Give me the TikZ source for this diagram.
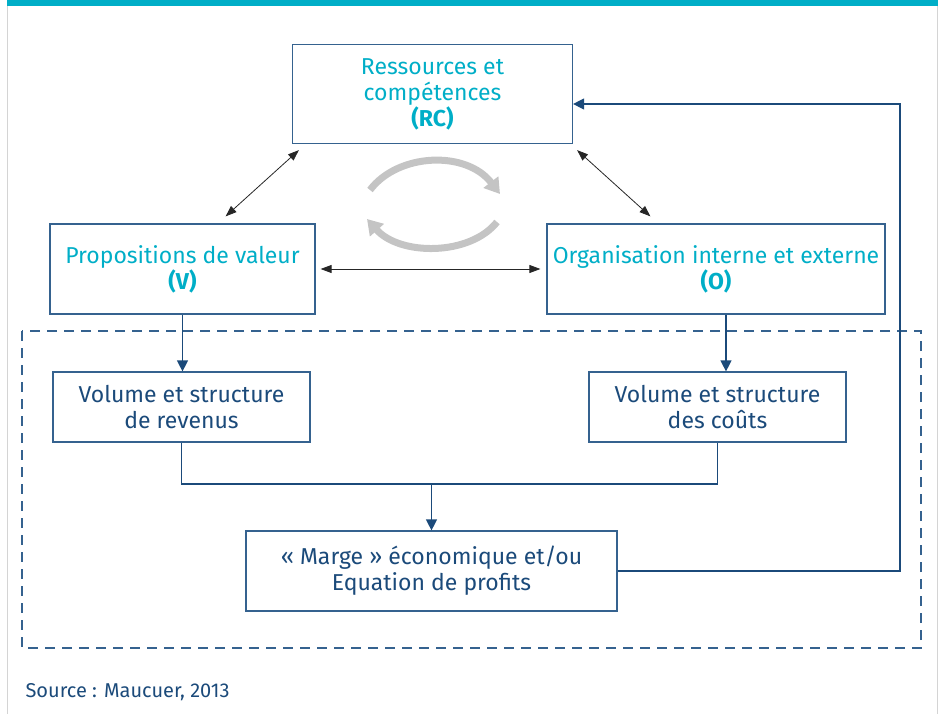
\documentclass[tikz,border=0pt]{standalone}
\usepackage{fontspec}
\setmainfont{Fira Sans}
\usetikzlibrary{arrows.meta,positioning}
\definecolor{Teal}{HTML}{00AEC7}
\definecolor{Navy}{HTML}{1B4A7A}
\definecolor{Frame}{HTML}{35628F}
\definecolor{Arc}{HTML}{C4C4C4}
\definecolor{Edge}{HTML}{D4D4D4}

\begin{document}
\begin{tikzpicture}[x=1pt,y=-1pt,font=\fontsize{23}{26}\selectfont,
  box/.style={draw=Frame,line width=1.2pt,align=center,inner sep=0pt,text=Navy},
  keybox/.style={box,text=Teal},
  link/.style={draw=Navy,line width=1.2pt,-{Triangle[width=11pt,length=11pt]}},
  dual/.style={black!85,line width=0.8pt,{Triangle[width=8pt,length=11pt]}-{Triangle[width=8pt,length=11pt]}},
  turn/.style={Arc,line width=7pt,-{Triangle[width=18pt,length=15pt]}}]
  \useasboundingbox (0,0) rectangle (940,714);
  % page frame
  \draw[Edge,line width=1pt] (7.5,6) -- (7.5,714) (937,6) -- (937,714);
  \fill[Teal] (7,0) rectangle (938,6);

  % the three building blocks
  \node[keybox,minimum width=280pt,minimum height=99pt] (rc) at (432.5,94)
    {Ressources et\\compétences\\\textbf{(RC)}};
  \node[keybox,minimum width=265pt,minimum height=90pt] (val) at (182.5,269)
    {Propositions de valeur\\\textbf{(V)}};
  \node[keybox,minimum width=338pt,minimum height=90pt] (org) at (716,269)
    {Organisation interne et externe\\\textbf{(O)}};

  % economic side
  \draw[Frame,line width=1.2pt,dash pattern=on 10pt off 7pt] (22,331) rectangle (921,648);
  \node[box,minimum width=257pt,minimum height=70pt] (rev) at (181.5,407)
    {Volume et structure\\de revenus};
  \node[box,minimum width=257pt,minimum height=70pt] (cost) at (717.5,407)
    {Volume et structure\\des coûts};
  \node[box,minimum width=371pt,minimum height=80pt] (marge) at (431.5,571)
    {« Marge » économique et/ou\\Equation de profits};

  % interactions between the blocks
  \draw[dual] ([shift={(7,6)}]rc.south west) -- ([shift={(-90,-7)}]val.north east);
  \draw[dual] ([shift={(4,6)}]rc.south east) -- ([shift={(104,-7)}]org.north west);
  \draw[dual] ([xshift=5pt]val.east) -- ([xshift=-6pt]org.west);
  \draw[turn] (370,190) .. controls (398,153) and (466,150) .. (500,194);
  \draw[turn] (497,222) .. controls (470,256) and (400,256) .. (367,219);

  % flows
  \draw[link] (val.south) -- (val.south |- rev.north);
  \draw[link] ([xshift=10pt]org.south) -- ([xshift=10pt]org.south |- cost.north);
  \coordinate (join) at (431.5,484);
  \draw[Navy,line width=1.2pt] (rev.south) |- (join) -| (cost.south);
  \draw[link] (join) -- (marge.north);
  \coordinate (back) at (900,104);
  \draw[link] (marge.east) -| (back) -- (back -| rc.east);

  \node[anchor=west,text=Navy,font=\fontsize{20}{23}\selectfont] (src) at (22,692)
    {Source : Maucuer, 2013};
\end{tikzpicture}
\end{document}
